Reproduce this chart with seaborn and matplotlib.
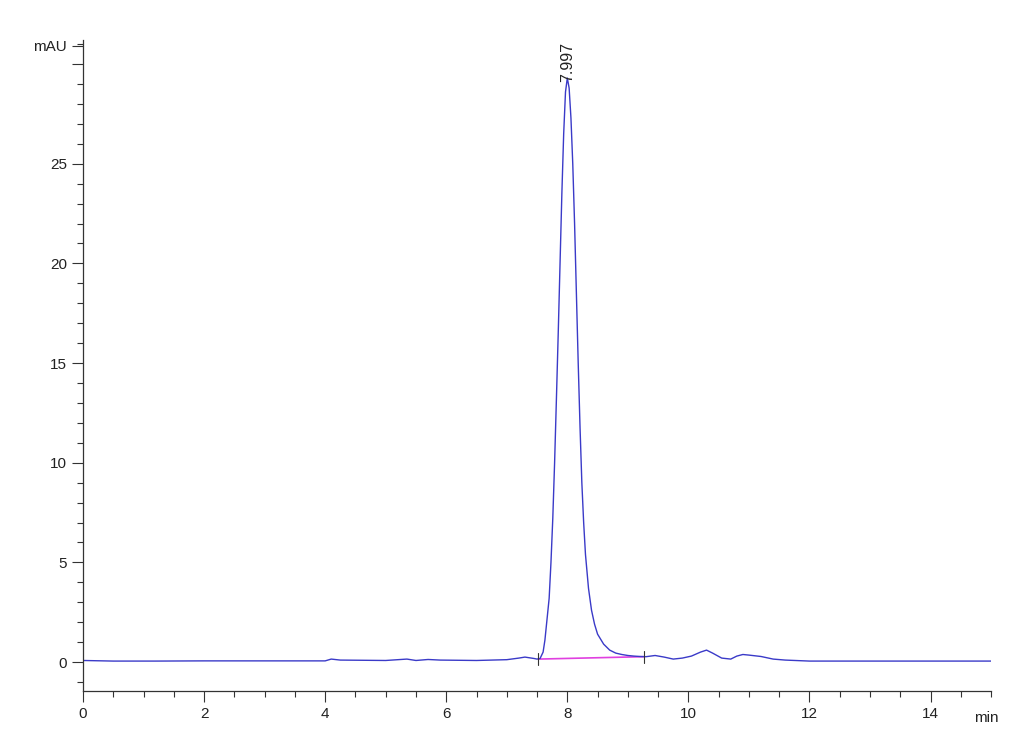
import matplotlib
matplotlib.use("Agg")
import matplotlib.pyplot as plt
import seaborn as sns
import pandas as pd
from matplotlib.ticker import MultipleLocator

# chromatogram trace (time in min, signal in mAU)
time_min = [0.0, 0.5, 1.2, 2.0, 3.0, 4.0, 4.1, 4.25, 5.0, 5.35, 5.5, 5.7, 5.9, 6.5,
            7.0, 7.2, 7.3, 7.45, 7.5, 7.55, 7.6, 7.63, 7.66, 7.7, 7.73, 7.76, 7.79,
            7.82, 7.85, 7.88, 7.91, 7.94, 7.97, 8.0, 8.03, 8.06, 8.09, 8.12, 8.15,
            8.18, 8.21, 8.24, 8.27, 8.3, 8.35, 8.4, 8.45, 8.5, 8.6, 8.7, 8.8, 8.9,
            9.0, 9.1, 9.2, 9.3, 9.45, 9.6, 9.75, 9.9, 10.05, 10.2, 10.3, 10.4, 10.55,
            10.7, 10.8, 10.9, 11.0, 11.2, 11.4, 11.6, 12.0, 13.0, 14.0, 15.0]
signal_mau = [0.08, 0.05, 0.05, 0.06, 0.06, 0.06, 0.15, 0.1, 0.08, 0.15, 0.08, 0.13, 0.1, 0.08,
              0.12, 0.2, 0.25, 0.18, 0.15, 0.18, 0.5, 1.1, 2.0, 3.2, 5.0, 7.2, 10.0,
              13.2, 16.5, 20.0, 23.5, 26.5, 28.6, 29.3, 28.8, 27.3, 25.0, 22.0, 18.5,
              15.0, 11.8, 9.0, 7.0, 5.4, 3.7, 2.6, 1.9, 1.4, 0.9, 0.6, 0.45, 0.38,
              0.33, 0.3, 0.28, 0.27, 0.33, 0.25, 0.15, 0.2, 0.3, 0.5, 0.6, 0.45, 0.2,
              0.15, 0.3, 0.38, 0.35, 0.28, 0.15, 0.1, 0.05, 0.05, 0.05, 0.05]

# integration baseline of the main peak
base_time = [7.52, 9.26]
base_mau = [0.15, 0.27]
peak_rt = 7.997
peak_height = 29.3

df = pd.DataFrame({"time": time_min, "mAU": signal_mau})
base = pd.DataFrame({"time": base_time, "mAU": base_mau})

sns.set_style("ticks")
plt.rcParams["font.family"] = ["Liberation Sans", "DejaVu Sans"]

fig = plt.figure(figsize=(10.3, 7.55), dpi=100)
ax = fig.add_axes([0.0806, 0.0848, 0.8816, 0.862])

sns.lineplot(data=base, x="time", y="mAU", ax=ax, color="#e040e0", linewidth=1.2)
sns.lineplot(data=df, x="time", y="mAU", ax=ax, color="#3a3ac8", linewidth=1.0)

# baseline start/end markers
for t, v in zip(base_time, base_mau):
    ax.plot([t, t], [v - 0.3, v + 0.3], color="#333333", linewidth=0.8)

ax.text(peak_rt, peak_height - 0.2, f"{peak_rt:.3f}", rotation=90, ha="center",
        va="bottom", fontsize=11.5, color="#222222")

ax.set_xlim(0, 15)
ax.set_ylim(-1.45, 31.2)
ax.set_xlabel("")
ax.set_ylabel("")
sns.despine(ax=ax)

ax.set_xticks([0, 2, 4, 6, 8, 10, 12, 14])
ax.xaxis.set_minor_locator(MultipleLocator(0.5))
ax.set_yticks([0, 5, 10, 15, 20, 25, 30, 30.93])
ax.set_yticklabels(["0", "5", "10", "15", "20", "25", "", "mAU"])
ax.yaxis.set_minor_locator(MultipleLocator(1))
ax.tick_params(axis="both", which="major", length=8, width=0.8, labelsize=11,
               color="#333333", labelcolor="#222222")
ax.tick_params(axis="both", which="minor", length=4, width=0.8, color="#333333")
for s in ["left", "bottom"]:
    ax.spines[s].set_color("#333333")
    ax.spines[s].set_linewidth(0.9)

ax.text(14.72, -2.8, "min", ha="left", va="center", fontsize=11, color="#222222")

fig.savefig("out.png", dpi=100)
